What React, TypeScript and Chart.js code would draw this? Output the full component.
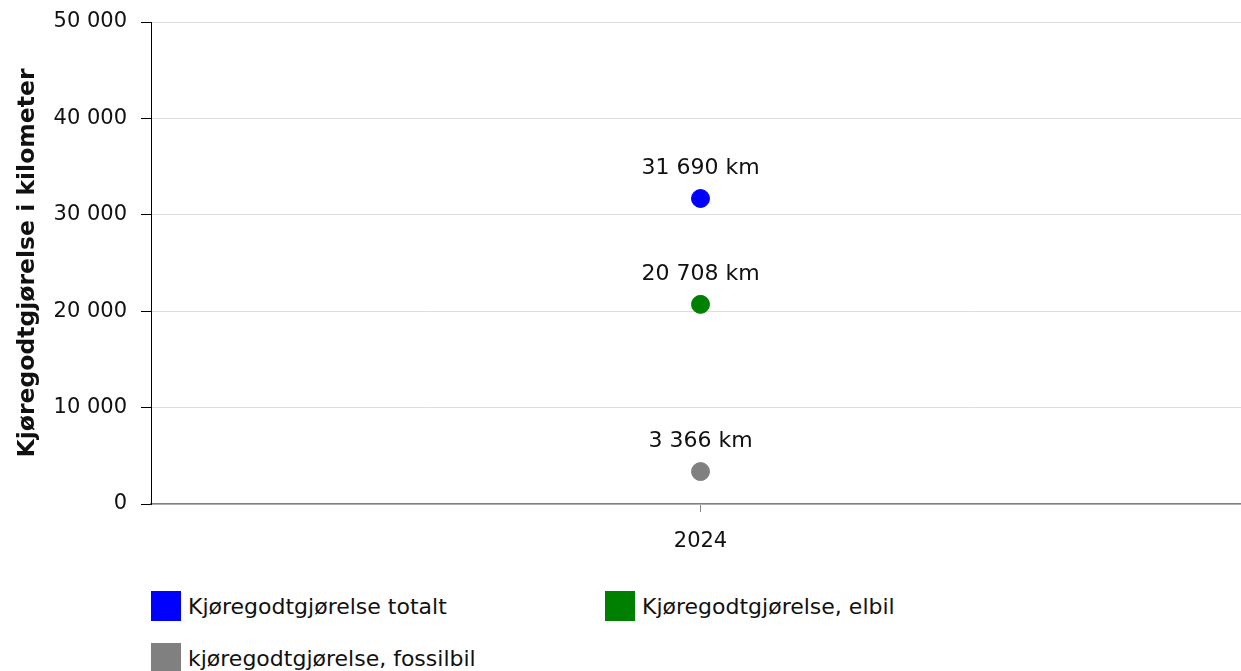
import React, { useEffect, useRef } from "react";
import { Chart, registerables } from "chart.js";

Chart.register(...registerables);

const categories = ["2024"];
const seriesNames = [
  "Kjøregodtgjørelse totalt",
  "Kjøregodtgjørelse, elbil",
  "kjøregodtgjørelse, fossilbil",
];
const totalValues = [31690];
const elbilValues = [20708];
const fossilValues = [3366];
const seriesColors = ["#0000ff", "#008000", "#808080"];
const yTicks = [0, 10000, 20000, 30000, 40000, 50000];
const yTitle = "Kjøregodtgjørelse i kilometer";

const FONT = "'DejaVu Sans', Verdana, sans-serif";
const fmt = (v: number) => String(v).replace(/\B(?=(\d{3})+(?!\d))/g, " ");

const labelPlugin = {
  id: "pointLabels",
  afterDatasetsDraw(chart: any) {
    const ctx = chart.ctx;
    ctx.save();
    ctx.font = `22px ${FONT}`;
    ctx.fillStyle = "#111";
    ctx.textAlign = "center";
    ctx.textBaseline = "middle";
    chart.data.datasets.forEach((ds: any, i: number) => {
      const meta = chart.getDatasetMeta(i);
      meta.data.forEach((pt: any, j: number) => {
        ctx.fillText(fmt(ds.data[j]) + " km", pt.x, pt.y - 30);
      });
    });
    ctx.restore();
  },
};

export default function App() {
  const ref = useRef<HTMLCanvasElement>(null);
  useEffect(() => {
    document.body.style.overflow = "hidden";
    const seriesValues = [totalValues, elbilValues, fossilValues];
    const chart = new Chart(ref.current!, {
      type: "line",
      data: {
        labels: categories,
        datasets: seriesNames.map((n, i) => ({
          label: n,
          data: seriesValues[i],
          showLine: false,
          pointRadius: 9,
          pointHoverRadius: 9,
          pointBackgroundColor: seriesColors[i],
          pointBorderColor: seriesColors[i],
          backgroundColor: seriesColors[i],
          borderColor: seriesColors[i],
        })),
      },
      options: {
        animation: false,
        responsive: false,
        devicePixelRatio: 1,
        layout: { padding: { top: 22, right: 1, left: 0, bottom: 0 } },
        plugins: { legend: { display: false }, tooltip: { enabled: false } },
        scales: {
          x: {
            offset: true,
            grid: {
              display: true,
              drawOnChartArea: false,
              tickLength: 8,
              tickColor: "#888",
            },
            border: { color: "#808080", width: 1.5 },
            ticks: { color: "#111", font: { family: FONT, size: 21 }, padding: 17 },
            afterFit: (s: any) => {
              s.height = 56;
              s.paddingLeft = 0;
              s.paddingRight = 0;
            },
          },
          y: {
            min: 0,
            max: 50000,
            afterBuildTicks: (s: any) => {
              s.ticks = yTicks.map((v) => ({ value: v }));
            },
            grid: { color: "#dcdcdc", tickColor: "#000", tickLength: 10 },
            border: { color: "#000", width: 1 },
            ticks: {
              color: "#111",
              font: { family: FONT, size: 21 },
              padding: 14,
              callback: (v: any) => fmt(Number(v)),
            },
            title: {
              display: true,
              text: yTitle,
              color: "#111",
              font: { family: FONT, size: 23.5, weight: "bold" },
              padding: { top: 14, bottom: 0 },
            },
            afterFit: (s: any) => {
              s.width = 151;
              s.paddingTop = 0;
              s.paddingBottom = 0;
            },
          },
        },
      },
      plugins: [labelPlugin],
    });
    return () => chart.destroy();
  }, []);

  const legendPos = [
    { x: 151, y: 591 },
    { x: 605, y: 591 },
    { x: 151, y: 643 },
  ];

  return (
    <div style={{ position: "absolute", left: 0, top: 0, width: 1260, height: 671 }}>
      <canvas ref={ref} width={1260} height={560} style={{ display: "block", width: 1260, height: 560 }} />
      {seriesNames.map((n, i) => (
        <div
          key={n}
          style={{
            position: "absolute",
            left: legendPos[i].x,
            top: legendPos[i].y,
            height: 30,
            display: "flex",
            alignItems: "center",
            fontFamily: FONT,
            fontSize: 22,
            color: "#111",
            whiteSpace: "nowrap",
          }}
        >
          <span style={{ width: 30, height: 30, background: seriesColors[i], display: "inline-block", marginRight: 7 }} />
          <span>{n}</span>
        </div>
      ))}
    </div>
  );
}
